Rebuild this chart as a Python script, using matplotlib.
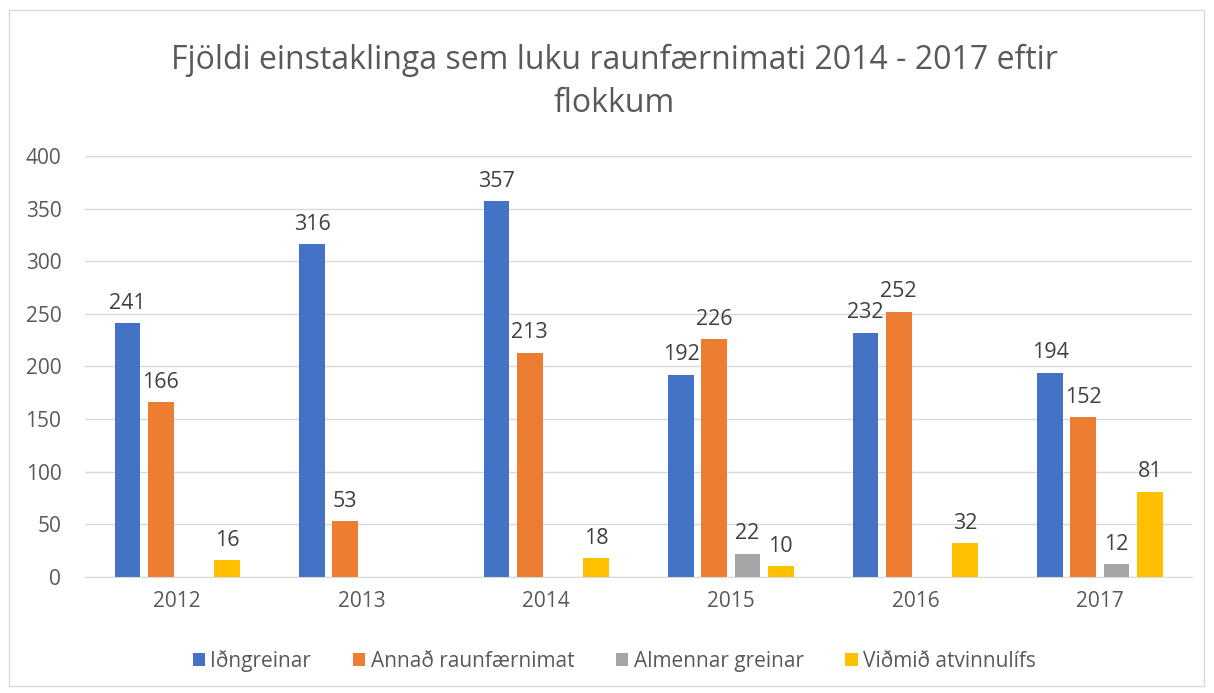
import numpy as np
import matplotlib
matplotlib.use("Agg")
from matplotlib import pyplot as plt
from matplotlib.patches import Rectangle

ar = ["2012", "2013", "2014", "2015", "2016", "2017"]
idngreinar = [241, 316, 357, 192, 232, 194]
annad = [166, 53, 213, 226, 252, 152]
almennar = [None, None, None, 22, None, 12]
vidmid = [16, None, 18, 10, 32, 81]

flokkar = ["Iðngreinar", "Annað raunfærnimat", "Almennar greinar", "Viðmið atvinnulífs"]
litir = ["#4472C4", "#ED7D31", "#A5A5A5", "#FFC000"]
textalitur = "#595959"

plt.rcParams['font.family'] = ['Open Sans', 'DejaVu Sans']

fig = plt.figure(figsize=(12.14, 6.93), dpi=100)
ax = fig.add_axes([0.070, 0.1674, 0.912, 0.6075])

# ytri rammi
fig.patches.append(Rectangle((9/1214, 1-686/693), 1195/1214, 676/693, transform=fig.transFigure,
                             fill=False, edgecolor="#d9d9d9", linewidth=1))

x = np.arange(len(ar))
breidd = 0.14
skref = 0.18
for i, (gildi, nafn, litur) in enumerate(zip([idngreinar, annad, almennar, vidmid], flokkar, litir)):
    hnit = x + (i - 1.5) * skref
    y = [np.nan if g is None else g for g in gildi]
    ax.bar(hnit, y, width=breidd, color=litur, label=nafn)
    for xx, g in zip(hnit, gildi):
        if g is not None:
            ax.text(xx, g + 9, str(g), ha="center", va="bottom", fontsize=15.5, color="#404040")

ax.set_xlim(-0.5, len(ar) - 0.5)
ax.set_ylim(0, 400)
ax.set_yticks(range(0, 401, 50))
ax.set_xticks(x)
ax.set_xticklabels(ar)
ax.tick_params(axis="both", length=0, labelsize=15, labelcolor=textalitur)
ax.tick_params(axis="x", pad=10)
ax.tick_params(axis="y", pad=17)
ax.grid(axis="y", color="#d9d9d9", linewidth=1)
ax.set_axisbelow(True)
for s in ["left", "right", "top"]:
    ax.spines[s].set_visible(False)
ax.spines["bottom"].set_color("#d9d9d9")

fig.text(0.506, 0.937, "Fjöldi einstaklinga sem luku raunfærnimati 2014 - 2017 eftir\nflokkum",
         ha="center", va="top", fontsize=23, color=textalitur, linespacing=1.4)

fig.legend(loc="center", bbox_to_anchor=(0.506, 0.046), ncol=4, frameon=False, fontsize=15,
           labelcolor=textalitur, handlelength=0.6, handleheight=0.6, handletextpad=0.25,
           columnspacing=2.0)

fig.savefig("out.png", dpi=100)
